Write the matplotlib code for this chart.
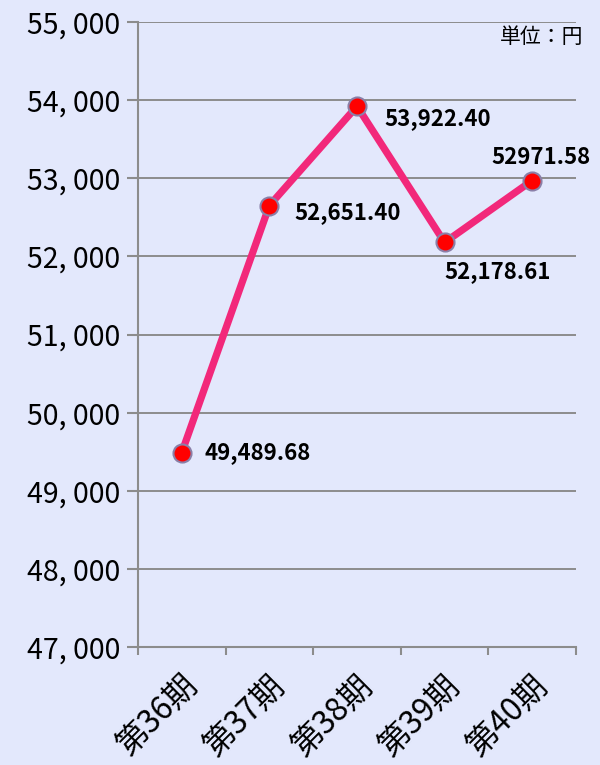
import matplotlib

matplotlib.use("Agg")
import matplotlib.pyplot as plt

plt.rcParams["font.family"] = ["Noto Sans CJK JP", "DejaVu Sans"]

periods = ["第36期", "第37期", "第38期", "第39期", "第40期"]
values = [49489.68, 52651.40, 53922.40, 52178.61, 52971.58]
value_labels = ["49,489.68", "52,651.40", "53,922.40", "52,178.61", "52971.58"]
y_ticks = [47000, 48000, 49000, 50000, 51000, 52000, 53000, 54000, 55000]

BG = "#E3E8FC"
GRID = "#8C8C8C"
LINE = "#F2287A"

fig = plt.figure(figsize=(6.0, 7.65), dpi=100)
fig.patch.set_facecolor(BG)
ax = fig.add_axes([0.23, 0.1542, 0.73, 0.8170])
ax.set_facecolor(BG)

x_pos = [i + 0.5 for i in range(len(periods))]
ax.plot(
    x_pos,
    values,
    color=LINE,
    linewidth=5.2,
    marker="o",
    markersize=13,
    markerfacecolor="#FF0000",
    markeredgecolor="#8A7FA8",
    markeredgewidth=1.5,
    solid_capstyle="round",
    zorder=3,
)

# data labels: (dx, dy, ha, va) in points
label_offsets = [
    (16, 0, "left", "center"),
    (18, -5, "left", "center"),
    (20, -9, "left", "center"),
    (0, -21, "left", "center"),
    (6, 8, "center", "bottom"),
]
for x, v, text, (dx, dy, ha, va) in zip(x_pos, values, value_labels, label_offsets):
    ax.annotate(
        text,
        (x, v),
        xytext=(dx, dy),
        textcoords="offset points",
        ha=ha,
        va=va,
        fontsize=16,
        fontweight="bold",
        color="black",
        zorder=4,
    )

ax.set_xlim(0, len(periods))
ax.set_ylim(47000, 55000)
ax.set_yticks(y_ticks)
ax.set_yticklabels([f"{t:,}".replace(",", ", ") for t in y_ticks], fontsize=20.5)
ax.set_xticks(range(len(periods) + 1))
ax.set_xticklabels([])
ax.set_xticks(x_pos, minor=True)
ax.set_xticklabels(periods, minor=True, rotation=45, ha="right",
                   rotation_mode="anchor", fontsize=23)
ax.tick_params(axis="x", which="minor", length=0, pad=16)
ax.tick_params(axis="x", which="major", length=6, width=1.5, color=GRID, direction="out")
ax.tick_params(axis="y", length=8, width=1.5, color=GRID, pad=5)

ax.grid(axis="y", color=GRID, linewidth=1.4)
ax.set_axisbelow(True)
for side in ("top", "right"):
    ax.spines[side].set_visible(False)
for side in ("left", "bottom"):
    ax.spines[side].set_color(GRID)
    ax.spines[side].set_linewidth(1.5)

fig.text(0.972, 0.951, "単位：円", ha="right", va="center", fontsize=15)

fig.savefig("out.png", dpi=100, facecolor=BG)
